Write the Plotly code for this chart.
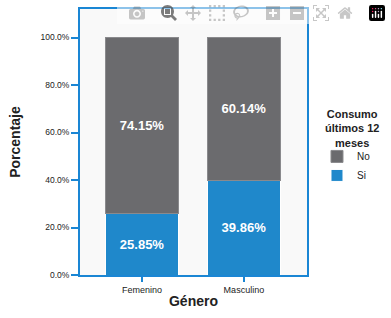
import plotly.graph_objects as go

categories = ["Femenino", "Masculino"]
si_values = [25.85, 39.86]
no_values = [74.15, 60.14]
y_tick_vals = [0, 20, 40, 60, 80, 100]
y_tick_text = ["0.0%", "20.0%", "40.0%", "60.0%", "80.0%", "100.0%"]

BLUE = "#1f88cb"
GRAY = "#6b6b6e"
AXIS = "#1a86d4"

fig = go.Figure()
fig.add_trace(go.Bar(
    x=categories, y=si_values, name="Si",
    marker=dict(color=BLUE, line=dict(color="white", width=1)),
    texttemplate="<b>%{y:.2f}%</b>", textposition="inside", insidetextanchor="middle",
    textfont=dict(color="white", size=13, family="Liberation Sans, Arial, sans-serif"),
))
fig.add_trace(go.Bar(
    x=categories, y=no_values, name="No",
    marker=dict(color=GRAY, line=dict(color="#8a8a8d", width=1)),
    texttemplate="<b>%{y:.2f}%</b>", textposition="inside", insidetextanchor="middle",
    textfont=dict(color="white", size=13, family="Liberation Sans, Arial, sans-serif"),
))

fig.update_layout(
    width=391, height=318,
    barmode="stack", bargap=0.28,
    margin=dict(l=80, r=84, t=9, b=43, autoexpand=False),
    paper_bgcolor="white", plot_bgcolor="#f9f9f9",
    font=dict(family="Liberation Sans, Arial, sans-serif", color="#222222"),
    uniformtext=dict(minsize=13, mode="show"),
    legend=dict(
        traceorder="reversed",
        x=1.044, xanchor="left", y=0.41, yanchor="middle",
        font=dict(size=10), bgcolor="rgba(0,0,0,0)",
        itemwidth=30, tracegroupgap=0,
    ),
    showlegend=True,
    annotations=[dict(text="<b>Consumo<br>últimos 12<br>meses</b>", xref="paper", yref="paper",
                      x=1.198, y=0.55, xanchor="center", yanchor="middle", align="center",
                      showarrow=False, font=dict(size=11, color="#222222"))],
)
fig.update_xaxes(
    range=[-0.61, 1.62], automargin=False,
    showline=True, linecolor=AXIS, linewidth=2, mirror=True,
    ticks="outside", ticklen=5, tickcolor=AXIS, tickwidth=2,
    tickfont=dict(size=9, color="#222222"),
    title=dict(text="<b>Género</b>", font=dict(size=14, color="#222222"), standoff=2),
    showgrid=False,
)
fig.update_yaxes(
    range=[0, 112], automargin=False,
    tickvals=y_tick_vals, ticktext=y_tick_text,
    showline=True, linecolor=AXIS, linewidth=2, mirror=True,
    ticks="outside", ticklen=7, tickcolor=AXIS, tickwidth=2,
    tickfont=dict(size=8.5, family="Liberation Sans Narrow, Arial Narrow, sans-serif", color="#222222"),
    title=dict(text="<b>Porcentaje</b>", font=dict(size=14, color="#222222"), standoff=17),
    showgrid=False, zeroline=False,
)

fig.write_html("out.html", post_script="document.body.style.margin='0';")
